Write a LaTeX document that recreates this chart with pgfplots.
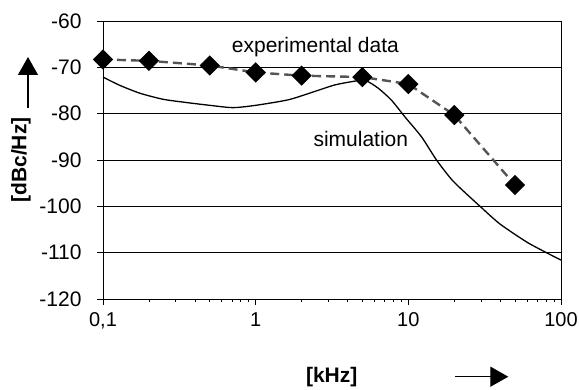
\documentclass[border=0pt]{standalone}
\usepackage{pgfplots}
\pgfplotsset{compat=1.18}
\usepackage{fontspec}
\setmainfont{Liberation Sans}
\usetikzlibrary{arrows.meta}
\definecolor{dashgray}{RGB}{85,85,85}
\begin{document}
\begin{tikzpicture}
\useasboundingbox (-103pt,-90pt) rectangle (476pt,299pt);
\begin{axis}[
  at={(0pt,0pt)}, anchor=south west,
  scale only axis, width=458pt, height=278pt,
  xmode=log, xmin=0.1, xmax=100, ymin=-120, ymax=-60,
  xtick={0.1,1,10,100}, xticklabels={{0,1},1,10,100},
  ytick={-120,-110,-100,-90,-80,-70,-60},
  yticklabels={-120,-110,-100,-90,-80,-70,-60},
  minor xtick={}, minor ytick={},
  tick align=outside, tick pos=left,
  major tick length=6pt,
  tick style={black, line width=0.8pt},
  axis line style={black, line width=0.8pt},
  ymajorgrids, grid style={black, line width=0.8pt},
  tick label style={font=\fontsize{20}{24}\selectfont},
  xticklabel style={yshift=-4pt},
  yticklabel style={xshift=-12pt, font=\fontsize{21}{24}\selectfont},
  clip=false,
]
\addplot[black, line width=1.3pt, smooth, tension=0.4] coordinates {
(0.1,-72.1) (0.129,-73.9) (0.175,-75.6) (0.248,-76.9) (0.353,-77.6)
(0.5,-78.2) (0.71,-78.7) (1.0,-78.2) (1.64,-77.0) (2.44,-75.2)
(3.3,-73.8) (4.25,-73.1) (5.2,-72.8) (6.35,-74.5) (7.76,-77.1)
(9.5,-80.7) (12.2,-85.0) (15.3,-90.0) (19.7,-94.6) (29.5,-100.0)
(39.8,-103.8) (59.6,-107.7) (80.3,-110.0) (100,-111.6)
};
\addplot[dashgray, line width=2.4pt, dash pattern=on 9pt off 5pt,
  mark=square*, mark size=6pt,
  mark options={solid, fill=black, draw=black, rotate=45}] coordinates {
(0.1,-68.3) (0.2,-68.6) (0.5,-69.6) (1,-71.1) (2,-71.8)
(5,-72.1) (10,-73.6) (20,-80.3) (50,-95.4)
};
\end{axis}
\node[anchor=base west, inner sep=0pt, font=\fontsize{21}{24}\selectfont] at (128.7pt,246pt) {experimental data};
\node[anchor=base east, inner sep=0pt, font=\fontsize{21}{24}\selectfont] at (305.3pt,152.3pt) {simulation};
\node[rotate=90, inner sep=0pt, font=\bfseries\fontsize{21}{24}\selectfont] at (-82pt,139pt) {[dBc/Hz]};
\draw[line width=1.3pt, -{Triangle[width=20pt,length=18pt]}] (-75pt,191pt) -- (-75pt,242pt);
\node[inner sep=0pt, font=\bfseries\fontsize{21}{24}\selectfont] at (228.7pt,-78pt) {[kHz]};
\draw[line width=1.3pt, -{Triangle[width=20pt,length=18pt]}] (352pt,-77.7pt) -- (405.3pt,-77.7pt);
\end{tikzpicture}
\end{document}
